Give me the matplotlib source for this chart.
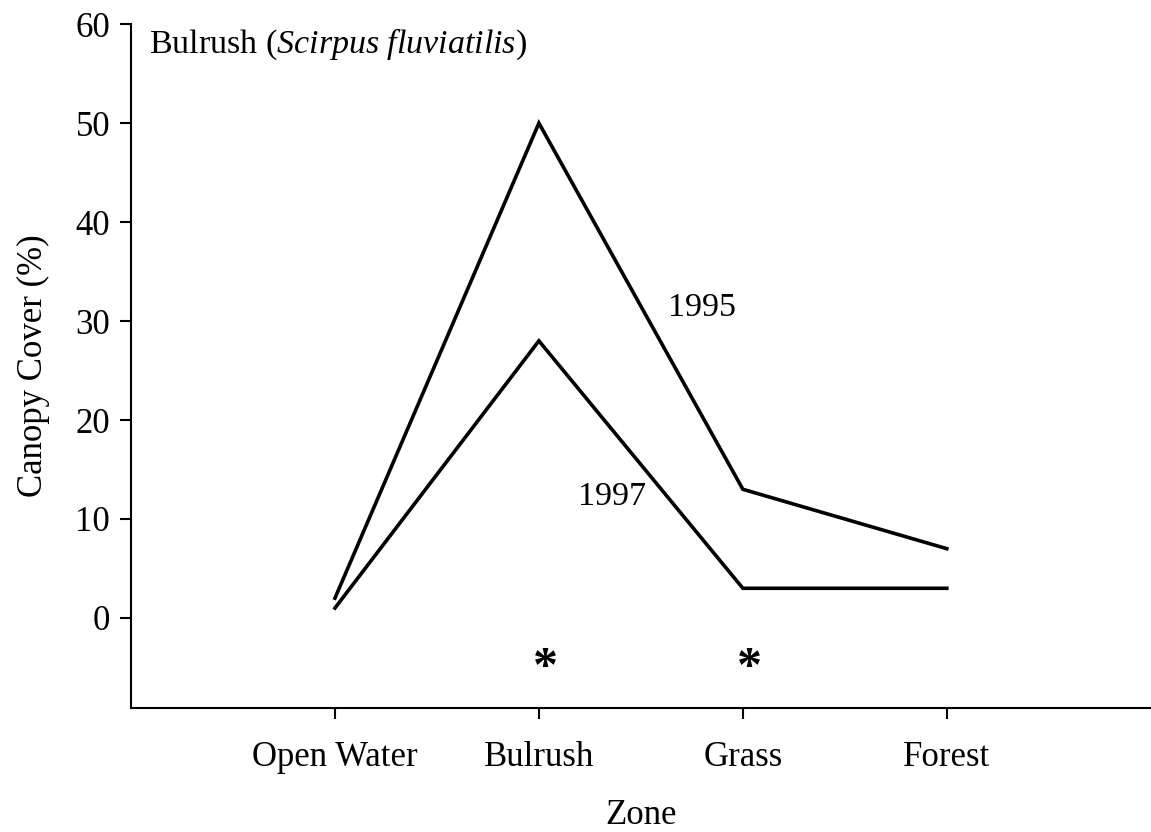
import matplotlib.pyplot as plt
import numpy as np

plt.rcParams.update({
    "font.family": "Liberation Serif",
    "font.size": 25,
    "mathtext.fontset": "custom",
    "mathtext.rm": "Liberation Serif",
    "mathtext.it": "Liberation Serif:italic",
})

zones = ['Open Water', 'Bulrush', 'Grass', 'Forest']
cover_1995 = [2, 50, 13, 7]
cover_1997 = [1, 28, 3, 3]
# zones with a significant difference between years
signif_zones = ['Bulrush', 'Grass']

x = np.arange(1, len(zones) + 1)

fig = plt.figure(figsize=(11.51, 8.32), dpi=100)
ax = fig.add_axes([0.1138, 0.149, 0.886, 0.822])

ax.plot(x, cover_1995, color='black', lw=2.6, solid_joinstyle='miter')
ax.plot(x, cover_1997, color='black', lw=2.6, solid_joinstyle='miter')

ax.text(2.8, 31.3, '1995', ha='center', va='center', fontsize=24.5)
ax.text(2.36, 12.2, '1997', ha='center', va='center', fontsize=24.5)

for z in signif_zones:
    ax.text(zones.index(z) + 1.03, -5.2, '*', ha='center', va='center',
            fontsize=36, fontweight='bold')

ax.text(0.09, 58, 'Bulrush ($Scirpus\\ fluviatilis$)', ha='left', va='center',
        fontsize=24.5)

ax.set_xlim(0, 5)
ax.set_ylim(-9.1, 60)
ax.set_xticks(x)
ax.set_xticklabels(zones)
ax.set_yticks(np.arange(0, 61, 10))

ax.spines['top'].set_visible(False)
ax.spines['right'].set_visible(False)
ax.spines['left'].set_linewidth(1.5)
ax.spines['bottom'].set_linewidth(1.5)
ax.tick_params(axis='both', direction='out', length=8, width=1.5)
ax.tick_params(axis='y', pad=7)
ax.tick_params(axis='x', pad=16)

ax.set_xlabel('Zone', labelpad=18)
ax.set_ylabel('Canopy Cover (%)', labelpad=18)

plt.savefig('out.png', dpi=100)
